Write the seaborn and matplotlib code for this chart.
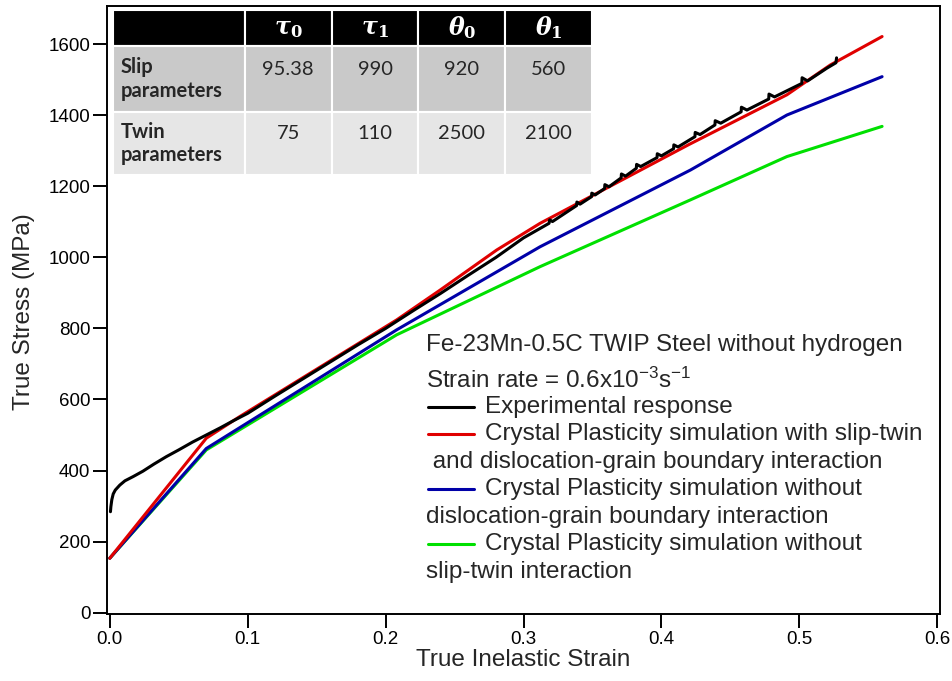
import matplotlib.pyplot as plt
import seaborn as sns
import numpy as np

# Experimental curve (true inelastic strain, true stress in MPa)
exp_x = [0.0005, 0.0008, 0.0015, 0.0025, 0.004, 0.0073, 0.011, 0.017, 0.024, 0.032,
         0.041, 0.05, 0.06, 0.07, 0.08, 0.09, 0.1, 0.12, 0.14, 0.16, 0.18, 0.2,
         0.22, 0.24, 0.26, 0.28, 0.30, 0.3185, 0.319, 0.321, 0.3385, 0.3387, 0.341,
         0.3493, 0.3495, 0.352, 0.3588, 0.359, 0.362, 0.3708, 0.371, 0.374,
         0.3818, 0.382, 0.385, 0.3968, 0.397, 0.400, 0.4088, 0.409, 0.412,
         0.4243, 0.4245, 0.428, 0.4388, 0.439, 0.443, 0.4578, 0.458, 0.462,
         0.4778, 0.478, 0.482, 0.5018, 0.502, 0.506, 0.520, 0.5265, 0.527]
exp_y = [284, 298, 318, 334, 345, 359, 371, 383, 398, 418,
         439, 458, 480, 500, 520, 541, 561, 610, 658, 706, 754, 800,
         850, 899, 950, 1000, 1055, 1096, 1106, 1101, 1146, 1156, 1150,
         1171, 1181, 1176, 1194, 1205, 1199, 1224, 1235, 1229,
         1251, 1262, 1256, 1281, 1292, 1286, 1306, 1317, 1311,
         1340, 1352, 1346, 1373, 1385, 1378, 1410, 1423, 1415,
         1446, 1460, 1452, 1490, 1506, 1497, 1533, 1548, 1562]

# Crystal plasticity simulations
red_x = [0, 0.07, 0.0943, 0.208, 0.2395, 0.2806, 0.312, 0.42, 0.491, 0.5225, 0.56]
red_y = [153, 491, 552, 824, 908, 1021, 1096, 1318, 1458, 1542, 1622]

blue_x = [0, 0.07, 0.208, 0.312, 0.421, 0.491, 0.56]
blue_y = [153, 462, 796, 1030, 1246, 1401, 1509]

green_x = [0, 0.07, 0.208, 0.312, 0.421, 0.491, 0.56]
green_y = [153, 458, 782, 974, 1162, 1284, 1369]

# Table of parameters
col_labels = ['', r'τ$_\mathbf{0}$', r'τ$_\mathbf{1}$', r'θ$_\mathbf{0}$', r'θ$_\mathbf{1}$']
row_labels = ['Slip\nparameters', 'Twin\nparameters']
slip_params = ['95.38', '990', '920', '560']
twin_params = ['75', '110', '2500', '2100']

legend_header = ['Fe-23Mn-0.5C TWIP Steel without hydrogen',
                 'Strain rate = 0.6x10$^{-3}$s$^{-1}$']
legend_entries = [('black', 'Experimental response', None),
                  ('#e00000', 'Crystal Plasticity simulation with slip-twin',
                   ' and dislocation-grain boundary interaction'),
                  ('#0000a8', 'Crystal Plasticity simulation without',
                   'dislocation-grain boundary interaction'),
                  ('#00e000', 'Crystal Plasticity simulation without',
                   'slip-twin interaction')]

sns.set_style('ticks')
plt.rcParams['font.family'] = ['Liberation Sans', 'DejaVu Sans']
plt.rcParams['mathtext.fontset'] = 'custom'
plt.rcParams['mathtext.rm'] = 'Liberation Sans'
plt.rcParams['mathtext.it'] = 'Liberation Sans:italic'
plt.rcParams['mathtext.bf'] = 'Liberation Sans:bold'

fig = plt.figure(figsize=(9.52, 6.81), dpi=100)
ax = fig.add_axes([0.1124, 0.0984, 0.875, 0.8928])

sns.lineplot(x=green_x, y=green_y, color='#00e000', lw=2.2, sort=False, estimator=None, ax=ax)
sns.lineplot(x=blue_x, y=blue_y, color='#0000a8', lw=2.2, sort=False, estimator=None, ax=ax)
sns.lineplot(x=red_x, y=red_y, color='#e00000', lw=2.2, sort=False, estimator=None, ax=ax)
sns.lineplot(x=exp_x, y=exp_y, color='black', lw=2.2, sort=False, estimator=None, ax=ax)

ax.set_xlim(-0.002, 0.602)
ax.set_ylim(-4, 1708)
ax.set_xticks(np.arange(0, 0.61, 0.1))
ax.set_xticklabels([f'{v:.1f}' for v in np.arange(0, 0.61, 0.1)])
ax.set_yticks(np.arange(0, 1601, 200))

for s in ax.spines.values():
    s.set_linewidth(1.4)
    s.set_color('black')
ax.tick_params(direction='out', length=10, width=1.4, labelsize=13.5, pad=2, colors='black')

ax.set_xlabel('True Inelastic Strain', fontsize=17.5)
ax.set_ylabel('True Stress (MPa)', fontsize=17.5)
ax.xaxis.set_label_coords(0.5, -0.057)
ax.yaxis.set_label_coords(-0.086, 0.497)

# legend block drawn by hand (wrapped lines start under the handles)
x_text = 0.383
x_h0, x_h1, x_lab = 0.3854, 0.4406, 0.4538
rows_y = [0.4424, 0.3849, 0.3405, 0.2961, 0.2500, 0.2056, 0.1595, 0.1151, 0.0691]
ax.text(x_text, rows_y[0], legend_header[0], transform=ax.transAxes,
        fontsize=17.5, va='center')
ax.text(x_text, rows_y[1], legend_header[1], transform=ax.transAxes,
        fontsize=17.5, va='center')
k = 2
for color, first, second in legend_entries:
    ax.plot([x_h0, x_h1], [rows_y[k], rows_y[k]], color=color, lw=2.2,
            transform=ax.transAxes)
    ax.text(x_lab, rows_y[k], first, transform=ax.transAxes, fontsize=17.5, va='center')
    k += 1
    if second:
        ax.text(x_text, rows_y[k], second, transform=ax.transAxes, fontsize=17.5, va='center')
        k += 1

# parameter table
cell_text = [col_labels,
             [row_labels[0]] + [p + '\n ' for p in slip_params],
             [row_labels[1]] + [p + '\n ' for p in twin_params]]
cell_colours = [['black'] * 5, ['#c9c9c9'] * 5, ['#e6e6e6'] * 5]
tbl = ax.table(cellText=cell_text, cellColours=cell_colours,
               colWidths=[0.275, 0.181, 0.181, 0.181, 0.181],
               cellLoc='center', bbox=[0.0072, 0.722, 0.575, 0.2714])
tbl.auto_set_font_size(False)
tbl.set_fontsize(14.5)
row_h = [0.218, 0.4, 0.382]
for (r, c), cell in tbl.get_celld().items():
    cell.set_edgecolor('white')
    cell.set_linewidth(1.5)
    cell.set_height(row_h[r])
    txt = cell.get_text()
    txt.set_fontfamily(['Lato', 'DejaVu Sans'])
    if r == 0:
        txt.set_color('white')
        txt.set_fontfamily(['DejaVu Serif'])
        txt.set_math_fontfamily('dejavuserif')
        txt.set_fontweight('bold')
        txt.set_fontstyle('italic')
        txt.set_fontsize(17)
    if c == 0:
        cell._loc = 'left'
        cell.PAD = 0.06
        txt.set_horizontalalignment('left')
        txt.set_fontweight('bold')

fig.savefig('out.png', dpi=100)
